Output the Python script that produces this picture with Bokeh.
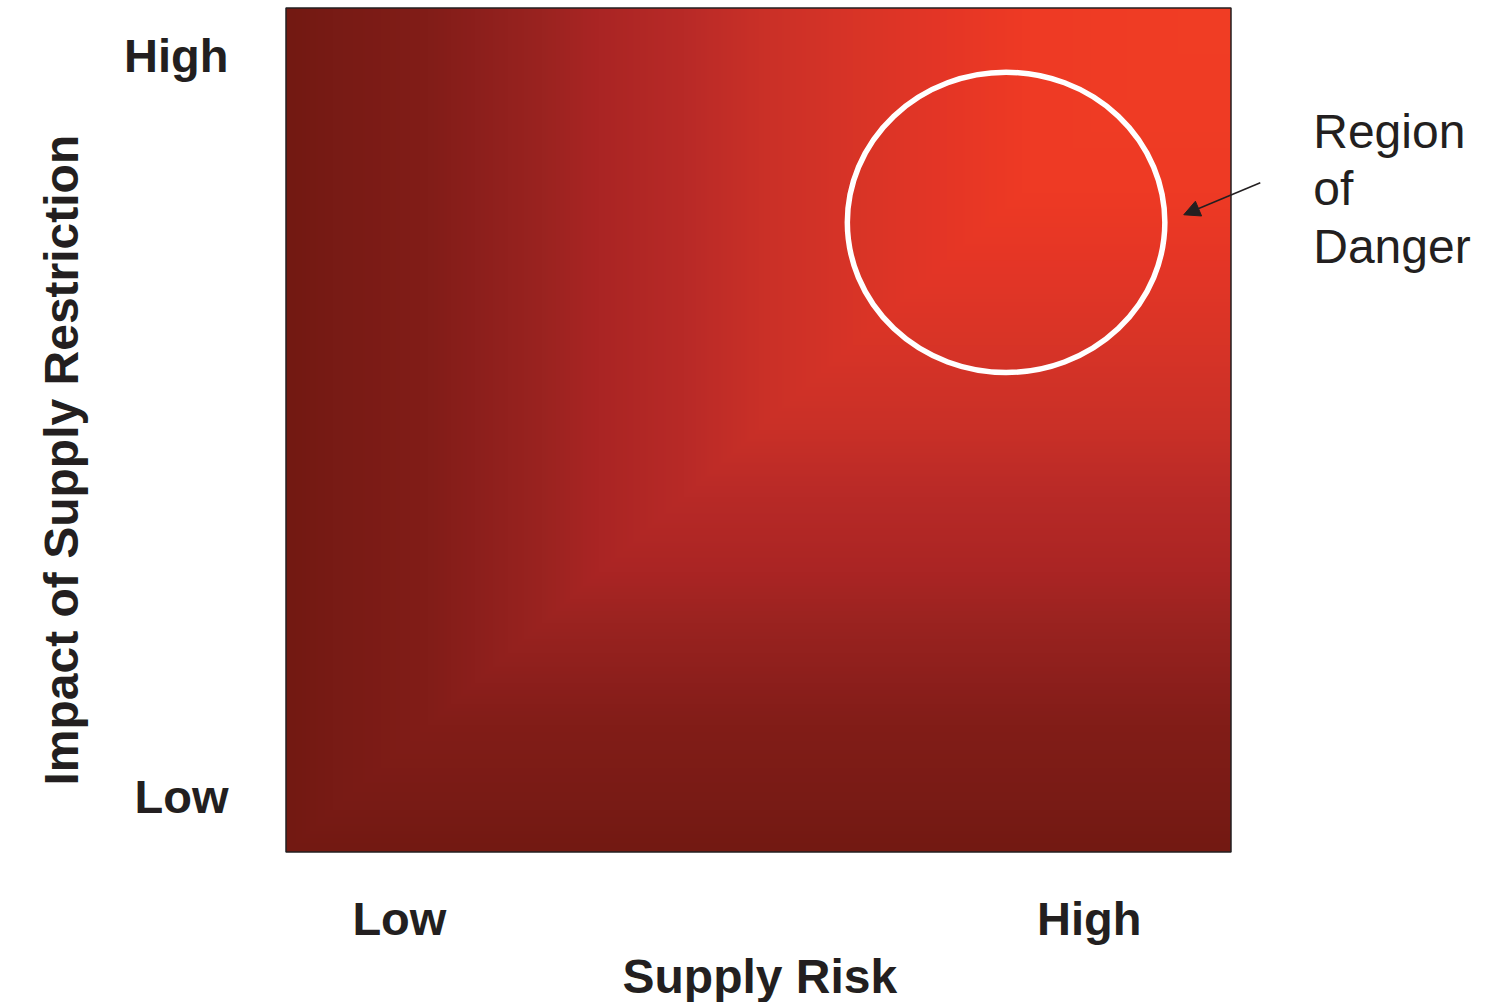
import numpy as np
from bokeh.plotting import figure
from bokeh.models import Range1d, FixedTicker, Label, Arrow, NormalHead, Title
from bokeh.embed import file_html
from bokeh.resources import INLINE

# ---- chart content ----
x_ticks = [0.12, 0.85]
x_tick_labels = ["Low", "High"]
y_ticks = [0.066, 0.944]
y_tick_labels = ["Low", "High"]
x_title = "Supply Risk"
y_title = "Impact of Supply Restriction"

danger_x = [0.762]
danger_y = [0.746]
danger_w = [0.336]
danger_h = [0.356]

annotation_text = "Region\nof\nDanger"
annotation_pos = (1.087, 0.885)
arrow_from = (1.031, 0.793)
arrow_to = (0.950, 0.755)

# colour ramp of the background gradient (position -> colour)
ramp_t = [0.0, 0.05, 0.15, 0.20, 0.27, 0.33, 0.42, 0.50, 0.60, 0.70, 0.78, 1.0]
ramp_hex = ["#731912", "#781b15", "#821d18", "#8c1f1c", "#9a2320", "#aa2524",
            "#b82a27", "#c93027", "#d83427", "#e53626", "#ee3a24", "#f13e25"]

TEXT = "#231f20"
FONT = "Liberation Sans"

# layout (pixels)
W, H = 1486, 1002
BL, BT, BB = 284, 6, 146
SQUARE_W, SQUARE_H = 945, 849
pad_x = 1.5 / SQUARE_W
pad_y = 1.5 / SQUARE_H
x_end = (W - BL) / SQUARE_W - pad_x

p = figure(width=W, height=H, output_backend="svg", toolbar_location=None,
           x_range=Range1d(-pad_x, x_end), y_range=Range1d(-pad_y, 1 + pad_y),
           min_border_left=BL, min_border_right=0, min_border_top=BT,
           min_border_bottom=BB)
p.background_fill_color = "white"
p.border_fill_color = "white"
p.outline_line_color = None
p.grid.visible = False

# background gradient
n = 480
g = np.linspace(0, 1, n)
U, V = np.meshgrid(g, g)
T = np.minimum(U, V)
rgb = np.array([[int(h[i:i + 2], 16) for i in (1, 3, 5)] for h in ramp_hex], dtype=float)
img = np.empty((n, n), dtype=np.uint32)
view = img.view(dtype=np.uint8).reshape((n, n, 4))
for c in range(3):
    view[:, :, c] = np.interp(T, ramp_t, rgb[:, c]).astype(np.uint8)
view[:, :, 3] = 255
p.image_rgba(image=[img], x=0, y=0, dw=1, dh=1)
p.quad(left=[0], right=[1], bottom=[0], top=[1], fill_color=None,
       line_color=TEXT, line_width=1.5)

# danger circle
p.ellipse(x=danger_x, y=danger_y, width=danger_w, height=danger_h,
          fill_color=None, line_color="white", line_width=5.5)

# axes
for ax, ticks, labels in ((p.xaxis[0], x_ticks, x_tick_labels), (p.yaxis[0], y_ticks, y_tick_labels)):
    ax.ticker = FixedTicker(ticks=ticks)
    ax.major_label_overrides = {t: l for t, l in zip(ticks, labels)}
    ax.axis_line_color = None
    ax.major_tick_line_color = None
    ax.minor_tick_line_color = None
    ax.major_label_text_font = FONT
    ax.major_label_text_font_style = "bold"
    ax.major_label_text_font_size = "47px"
    ax.major_label_text_color = TEXT

p.xaxis.major_label_standoff = 32
p.yaxis.major_label_standoff = 50

# axis titles
p.add_layout(Title(text=x_title, align="left", offset=338, standoff=0,
                   text_font=FONT, text_font_style="bold", text_font_size="48px",
                   text_color=TEXT), "below")
p.add_layout(Title(text=y_title, align="left", vertical_align="top", offset=68,
                   standoff=64, text_font=FONT, text_font_style="bold",
                   text_font_size="48px", text_color=TEXT), "left")

# annotation
p.add_layout(Label(x=annotation_pos[0], y=annotation_pos[1], text=annotation_text,
                   text_font=FONT, text_font_size="48px", text_color=TEXT,
                   text_baseline="top", text_align="left", text_line_height=1.08))
p.add_layout(Arrow(x_start=arrow_from[0], y_start=arrow_from[1],
                   x_end=arrow_to[0], y_end=arrow_to[1],
                   line_color=TEXT, line_width=1.5,
                   end=NormalHead(size=16, fill_color=TEXT, line_color=TEXT)))

open("out.html", "w").write(file_html(p, INLINE))
